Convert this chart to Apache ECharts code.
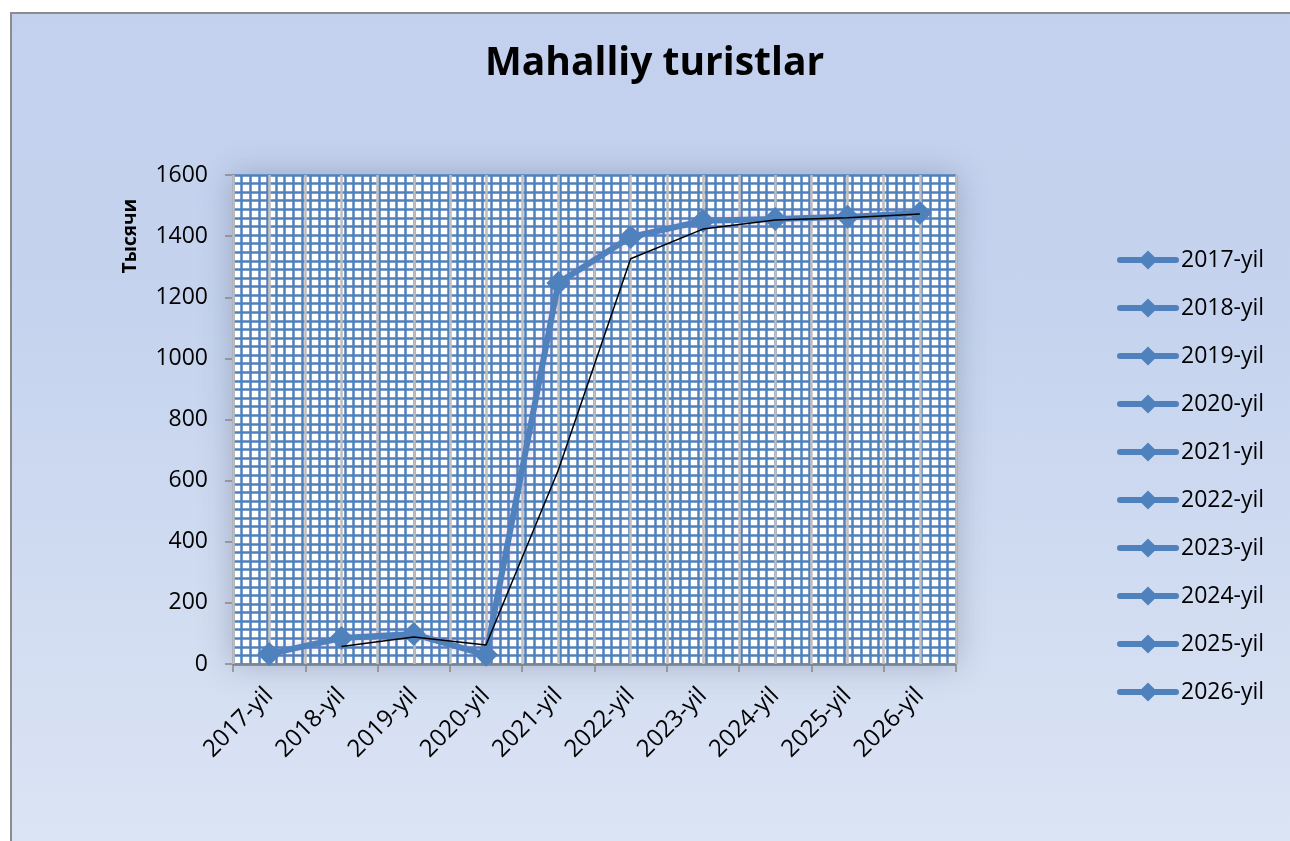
<!DOCTYPE html>
<html>
<head>
<meta charset="utf-8">
<title>Mahalliy turistlar</title>
<script src="https://cdn.jsdelivr.net/npm/echarts@6/dist/echarts.min.js"></script>
<style>
  html, body { margin: 0; padding: 0; width: 100%; height: 100%; overflow: hidden; background: #fff; }
  #bg {
    position: absolute; left: 10px; top: 12px; right: 0; bottom: 0;
    border-left: 2px solid #8c8c8c; border-top: 2px solid #8c8c8c;
    background: linear-gradient(#c3d1ee 0%, #c5d3ee 35%, #dbe4f4 100%);
  }
  #main { position: absolute; left: 0; top: 0; width: 1290px; height: 841px; }
</style>
</head>
<body>
<div id="bg"></div>
<div id="main"></div>
<script>
// yillar va qiymatlar (ming kishi)
var years = ['2017-yil', '2018-yil', '2019-yil', '2020-yil', '2021-yil',
             '2022-yil', '2023-yil', '2024-yil', '2025-yil', '2026-yil'];
var tourists = [33, 85, 98, 30, 1247, 1397, 1450, 1456, 1463, 1476];
// qora chiziq (trend), 2018 dan boshlanadi
var trend = [null, 57, 88, 62, 635, 1326, 1423, 1453, 1460, 1472];
var yTicks = { min: 0, max: 1600, interval: 200 };

var blue = '#4f81bd';
var font = 'Open Sans';

var chart = echarts.init(document.getElementById('main'));

// legenda uchun bo'sh seriyalar (Excel har bir nuqtani alohida ko'rsatadi)
var legendSeries = years.map(function (y) {
  return {
    name: y, type: 'line', data: [],
    symbol: 'diamond', symbolSize: 20,
    itemStyle: { color: blue },
    lineStyle: { color: blue, width: 6 }
  };
});

chart.setOption({
  animation: false,
  backgroundColor: 'transparent',
  textStyle: { fontFamily: font },
  title: {
    text: 'Mahalliy turistlar',
    left: 480, top: 39,
    textStyle: { fontFamily: font, fontWeight: 'bold', fontSize: 39, color: '#000' }
  },
  graphic: [{
    type: 'text', x: 131, y: 236, rotation: Math.PI / 2,
    style: {
      text: 'Тысячи', fontFamily: font, fontWeight: 'bold', fontSize: 19,
      fill: '#000', align: 'center', verticalAlign: 'middle'
    }
  }],
  legend: {
    orient: 'vertical', left: 1112, top: 243,
    itemWidth: 56, itemHeight: 24, itemGap: 24, itemStyle: { borderWidth: 0 },
    lineStyle: { width: 6, color: blue, cap: 'round' },
    data: years,
    textStyle: { fontFamily: font, fontSize: 23, color: '#000', lineHeight: 24 }
  },
  grid: {
    left: 233, right: 334, top: 175, bottom: 177,
    show: true, backgroundColor: '#fff', borderWidth: 0,
    shadowBlur: 30, shadowColor: 'rgba(70,80,110,0.35)'
  },
  xAxis: [{
    type: 'category', data: years, boundaryGap: true,
    axisLine: { lineStyle: { color: '#868686', width: 1.5 } },
    axisTick: { show: true, length: 8, lineStyle: { color: '#868686', width: 1.5 } },
    axisLabel: { rotate: 45, margin: 28, fontSize: 24, color: '#000', fontFamily: font, interval: 0 },
    splitLine: { show: false }
  }, {
    // naqsh: ko'k vertikal chiziqlar
    type: 'value', min: 0, max: 84, interval: 1, z: 0,
    axisLine: { show: false }, axisTick: { show: false }, axisLabel: { show: false },
    splitLine: { show: true, lineStyle: { color: blue, width: 2.5 } }
  }, {
    // kulrang vertikal chiziqlar
    type: 'value', min: 0, max: 20, interval: 1, z: 1,
    axisLine: { show: false }, axisTick: { show: false }, axisLabel: { show: false },
    splitLine: { show: true, lineStyle: { color: '#bfbfbf', width: 2.5 } }
  }],
  yAxis: [{
    type: 'value', min: yTicks.min, max: yTicks.max, interval: yTicks.interval,
    axisLine: { show: true, lineStyle: { color: '#868686', width: 1.5 } },
    axisTick: { show: true, length: 8, lineStyle: { color: '#868686', width: 1.5 } },
    axisLabel: { margin: 25, fontSize: 23, color: '#000', fontFamily: font,
      formatter: function (v) { return String(v); } },
    splitLine: { show: false }
  }, {
    // naqsh: ko'k gorizontal chiziqlar
    type: 'value', min: 0, max: 57, interval: 1, z: 0,
    axisLine: { show: false }, axisTick: { show: false }, axisLabel: { show: false },
    splitLine: { show: true, lineStyle: { color: blue, width: 2.5 } }
  }],
  series: [{
    name: 'Mahalliy turistlar', type: 'line', data: tourists,
    xAxisIndex: 0, yAxisIndex: 0, z: 3,
    symbol: 'diamond', symbolSize: 24,
    itemStyle: { color: blue },
    lineStyle: { color: blue, width: 6, shadowColor: 'rgba(150,110,200,0.35)', shadowBlur: 8 }
  }, {
    name: 'trend', type: 'line', data: trend,
    xAxisIndex: 0, yAxisIndex: 0, z: 4,
    symbol: 'none', connectNulls: false,
    lineStyle: { color: '#000', width: 1.5 }
  }].concat(legendSeries)
});
</script>
</body>
</html>
